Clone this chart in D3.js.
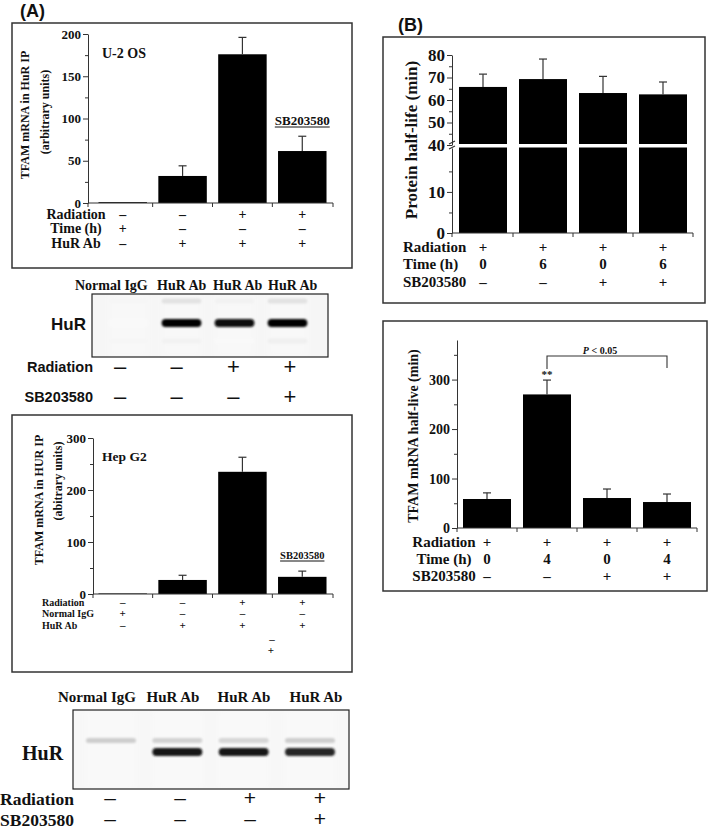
<!DOCTYPE html>
<html><head><meta charset="utf-8">
<script src="https://cdn.jsdelivr.net/npm/d3@7"></script>
<style>
body{margin:0;background:#fff;}
svg{display:block;}
</style></head><body>
<svg id="fig" width="709" height="831"></svg>
<script>
// ---------------- DATA ----------------
const lanes = ["1", "2", "3", "4"];

// (A) top chart: U-2 OS
const u2osValues = [1, 32, 176, 61.5];
const u2osErrTop = [1, 44, 196, 79];
const u2osTicks = [0, 50, 100, 150, 200];
const u2osMinor = [25, 75, 125, 175];
const u2osRows = ["Radiation", "Time (h)", "HuR Ab"];
const u2osSigns = [["–", "–", "+", "+"], ["+", "–", "–", "–"], ["–", "+", "+", "+"]];

// (A) blot 1
const blot1Headers = ["Normal IgG", "HuR Ab", "HuR Ab", "HuR Ab"];
const blot1Main = [0.05, 1, 0.97, 0.98];
const blot1Upper = [0.07, 0.2, 0.1, 0.2];
const blot1Lower = [0.07, 0.1, 0.05, 0.12];
const blot1Rows = ["Radiation", "SB203580"];
const blot1Signs = [["–", "–", "+", "+"], ["–", "–", "–", "+"]];

// (A) Hep G2 chart
const hepValues = [1, 27, 235, 33];
const hepErrTop = [1, 36, 263, 44];
const hepTicks = [0, 100, 200, 300];
const hepMinor = [50, 150, 250];
const hepRows = ["Radiation", "Normal IgG", "HuR Ab"];
const hepSigns = [["–", "–", "+", "+"], ["+", "–", "–", "–"], ["–", "+", "+", "+"]];

// (A) blot 2
const blot2Headers = ["Normal IgG", "HuR Ab", "HuR Ab", "HuR Ab"];
const blot2Upper = [0.3, 0.28, 0.26, 0.3];
const blot2Main = [0, 1, 1, 0.95];
const blot2Rows = ["Radiation", "SB203580"];
const blot2Signs = [["–", "–", "+", "+"], ["–", "–", "–", "+"]];

// (B) protein half-life (broken axis)
const protValues = [65.8, 69.3, 63.1, 62.5];
const protErrTop = [71.5, 78.2, 70.5, 68];
const protTicksUpper = [40, 50, 60, 70, 80];
const protMinorUpper = [45, 55, 65, 75];
const protTicksLower = [0, 10];
const protMinorLower = [5, 15];
const protRows = ["Radiation", "Time (h)", "SB203580"];
const protSigns = [["+", "+", "+", "+"], ["0", "6", "0", "6"], ["–", "–", "+", "+"]];

// (B) TFAM mRNA half-life
const mrnaValues = [58.6, 270, 60.6, 52.5];
const mrnaErrTop = [71, 299, 78.8, 68.7];
const mrnaTicks = [0, 100, 200, 300];
const mrnaMinor = [50, 150, 250, 350];
const mrnaRows = ["Radiation", "Time (h)", "SB203580"];
const mrnaSigns = [["+", "+", "+", "+"], ["0", "4", "0", "4"], ["–", "–", "+", "+"]];

// ---------------- HELPERS ----------------
const SERIF = '"Liberation Serif","Times New Roman",serif';
const SANS = '"Liberation Sans",Arial,sans-serif';
const svg = d3.select("#fig");
const INK = "#111";

const defs = svg.append("defs");
defs.append("filter").attr("id", "blur").attr("x", "-20%").attr("y", "-100%").attr("width", "140%").attr("height", "300%")
  .append("feGaussianBlur").attr("stdDeviation", 1.3);
defs.append("filter").attr("id", "blur2").attr("x", "-20%").attr("y", "-100%").attr("width", "140%").attr("height", "300%")
  .append("feGaussianBlur").attr("stdDeviation", 3);

function txt(x, y, s, size, o = {}) {
  const t = svg.append("text").attr("x", x).attr("y", y).text(s)
    .attr("font-size", size).attr("font-family", o.sans ? SANS : SERIF)
    .attr("font-weight", o.weight || "bold")
    .attr("text-anchor", o.anchor || "start").attr("fill", INK);
  if (o.rotate) t.attr("transform", `rotate(-90,${x},${y})`).attr("dy", "0.35em");
  return t;
}
function box(x0, y0, x1, y1) {
  svg.append("rect").attr("x", x0).attr("y", y0).attr("width", x1 - x0).attr("height", y1 - y0)
    .attr("fill", "none").attr("stroke", "#333").attr("stroke-width", 1.5);
}
function yAxis(x, scale, major, minor, size) {
  const g = svg.append("g").attr("transform", `translate(${x},0)`);
  g.call(d3.axisLeft(scale).tickValues(major).tickSize(5).tickSizeOuter(0).tickPadding(2).tickFormat(d3.format("d")));
  g.selectAll("text").attr("font-size", size).attr("font-family", SERIF).attr("font-weight", "bold").attr("fill", INK);
  g.select(".domain").attr("stroke", "#333");
  g.selectAll(".tick line").attr("stroke", "#333");
  const gm = svg.append("g").attr("transform", `translate(${x},0)`);
  gm.call(d3.axisLeft(scale).tickValues(minor).tickSize(3).tickFormat(""));
  gm.select(".domain").remove();
  gm.selectAll(".tick line").attr("stroke", "#333");
}
function xAxis(x0, x1, y, xs) {
  svg.append("line").attr("x1", x0).attr("x2", x1).attr("y1", y).attr("y2", y).attr("stroke", "#333");
  const step = xs.step();
  const bounds = [x0].concat(lanes.slice(1).map(l => xs(l) - (step - xs.bandwidth()) / 2)).concat([x1]);
  svg.selectAll(null).data(bounds).enter().append("line")
    .attr("x1", d => d).attr("x2", d => d).attr("y1", y).attr("y2", y + 4).attr("stroke", "#333");
}
function bars(xs, ys, values, errs, base) {
  svg.selectAll(null).data(values).enter().append("rect")
    .attr("x", (d, i) => xs(lanes[i])).attr("width", xs.bandwidth())
    .attr("y", d => ys(d)).attr("height", d => ys(base) - ys(d)).attr("fill", "#000");
  errorBars(xs, ys, values, errs);
}
function errorBars(xs, ys, values, errs) {
  values.forEach((v, i) => {
    if (errs[i] <= v) return;
    const cx = xs(lanes[i]) + xs.bandwidth() / 2;
    svg.append("line").attr("x1", cx).attr("x2", cx).attr("y1", ys(v)).attr("y2", ys(errs[i])).attr("stroke", "#333").attr("stroke-width", 1.2);
    svg.append("line").attr("x1", cx - 4).attr("x2", cx + 4).attr("y1", ys(errs[i])).attr("y2", ys(errs[i])).attr("stroke", "#333").attr("stroke-width", 1.2);
  });
}
function signRows(xs, rows, signs, baselines, size, o = {}) {
  signs.forEach((row, r) => {
    row.forEach((s, i) => {
      const cx = xs.bandwidth ? xs(lanes[i]) + xs.bandwidth() / 2 : xs(lanes[i]);
      txt(cx, baselines[r], s, size, Object.assign({ anchor: "middle" }, o));
    });
  });
}
function underlined(cx, y, s, size) {
  const t = txt(cx, y, s, size, { anchor: "middle" });
  const w = t.node().getComputedTextLength();
  svg.append("line").attr("x1", cx - w / 2).attr("x2", cx + w / 2).attr("y1", y + 2).attr("y2", y + 2).attr("stroke", INK).attr("stroke-width", 1);
}

// ---------------- PANEL LABELS ----------------
txt(20, 17, "(A)", 18, { sans: true });
txt(398, 31, "(B)", 18, { sans: true });

// ---------------- (A) U-2 OS ----------------
box(12, 23, 352, 268);
{
  const xs = d3.scaleBand().domain(lanes).range([92.5, 332.5]).paddingInner(0.19).paddingOuter(0.1);
  const ys = d3.scaleLinear().domain([0, 200]).range([203, 34]);
  bars(xs, ys, u2osValues, u2osErrTop, 0);
  xAxis(88, 333, 203, xs);
  yAxis(88, ys, u2osTicks, u2osMinor, 13);
  txt(25, 115, "TFAM mRNA in HuR IP", 12, { anchor: "middle", rotate: true });
  txt(45, 112, "(arbitrary units)", 12, { anchor: "middle", rotate: true });
  txt(102, 58, "U-2 OS", 14);
  underlined(xs("4") + xs.bandwidth() / 2, 125, "SB203580", 13);
  const bl = [219, 233, 248];
  u2osRows.forEach((r, k) => txt(76, bl[k], r, 14, { anchor: "middle" }));
  signRows(xs, u2osRows, u2osSigns, bl, 14);
}

// ---------------- (A) Blot 1 ----------------
{
  const x0 = 92, y0 = 294, x1 = 328, y1 = 357;
  const lx = d3.scaleBand().domain(lanes).range([102, 314]).paddingInner(0.25).paddingOuter(0.125);
  const clip = defs.append("clipPath").attr("id", "c1");
  clip.append("rect").attr("x", x0).attr("y", y0).attr("width", x1 - x0).attr("height", y1 - y0);
  const g = svg.append("g").attr("clip-path", "url(#c1)");
  g.append("rect").attr("x", x0).attr("y", y0).attr("width", x1 - x0).attr("height", y1 - y0).attr("fill", "#f6f6f6");
  lanes.forEach((l, i) => {
    g.append("rect").attr("x", lx(l)).attr("y", y0).attr("width", lx.bandwidth()).attr("height", y1 - y0)
      .attr("fill", d3.interpolateGreys(0.06)).attr("filter", "url(#blur2)");
    [[blot1Upper, 301, 5], [blot1Main, 323, 8], [blot1Lower, 341, 5]].forEach(([arr, cy, h]) => {
      if (arr[i] <= 0) return;
      g.append("rect").attr("x", lx(l)).attr("y", cy - h / 2).attr("width", lx.bandwidth()).attr("height", h)
        .attr("rx", h / 2).attr("fill", d3.interpolateGreys(arr[i])).attr("filter", "url(#blur)");
    });
  });
  svg.append("rect").attr("x", x0).attr("y", y0).attr("width", x1 - x0).attr("height", y1 - y0)
    .attr("fill", "none").attr("stroke", "#222").attr("stroke-width", 1.2);
  const hx = [75, 157, 213, 268];
  blot1Headers.forEach((h, i) => txt(hx[i], 290, h, 14));
  txt(86, 330, "HuR", 17, { sans: true, anchor: "end" });
  const sx = d3.scalePoint().domain(lanes).range([120, 290]);
  const bl = [374, 404];
  blot1Rows.forEach((r, k) => txt(93, bl[k] - 2, r, 14.5, { sans: true, anchor: "end" }));
  signRows(sx, blot1Rows, blot1Signs, bl, 22, { sans: true, weight: "normal" });
}

// ---------------- (A) Hep G2 ----------------
box(12, 415, 352, 672);
{
  const xs = d3.scaleBand().domain(lanes).range([92.5, 332.5]).paddingInner(0.19).paddingOuter(0.1);
  const ys = d3.scaleLinear().domain([0, 300]).range([594, 438]);
  bars(xs, ys, hepValues, hepErrTop, 0);
  xAxis(93, 333, 594, xs);
  yAxis(93, ys, hepTicks, hepMinor, 13);
  txt(39, 500, "TFAM mRNA in HUR IP", 12, { anchor: "middle", rotate: true });
  txt(58, 481, "(abitrary units)", 12, { anchor: "middle", rotate: true });
  txt(102, 461, "Hep G2", 13.5);
  underlined(xs("4") + xs.bandwidth() / 2, 559, "SB203580", 10.5);
  const bl = [606, 617, 629];
  hepRows.forEach((r, k) => txt(42, bl[k], r, 10));
  signRows(xs, hepRows, hepSigns, bl, 11);
  txt(272, 643, "–", 11, { anchor: "middle" });
  txt(271, 654, "+", 11, { anchor: "middle" });
}

// ---------------- (A) Blot 2 ----------------
{
  const x0 = 73, y0 = 710, x1 = 349, y1 = 789;
  const lc = d3.scalePoint().domain(lanes).range([111, 310]);
  const bw = 50;
  const clip = defs.append("clipPath").attr("id", "c2");
  clip.append("rect").attr("x", x0).attr("y", y0).attr("width", x1 - x0).attr("height", y1 - y0);
  const g = svg.append("g").attr("clip-path", "url(#c2)");
  g.append("rect").attr("x", x0).attr("y", y0).attr("width", x1 - x0).attr("height", y1 - y0).attr("fill", "#f7f7f7");
  lanes.forEach((l, i) => {
    g.append("rect").attr("x", lc(l) - bw / 2).attr("y", y0).attr("width", bw).attr("height", y1 - y0)
      .attr("fill", d3.interpolateGreys(0.05)).attr("filter", "url(#blur2)");
    if (blot2Upper[i] > 0)
      g.append("rect").attr("x", lc(l) - bw / 2).attr("y", 738).attr("width", bw).attr("height", 5).attr("rx", 2.5)
        .attr("fill", d3.interpolateGreys(blot2Upper[i])).attr("filter", "url(#blur)");
    if (blot2Main[i] > 0)
      g.append("rect").attr("x", lc(l) - bw / 2).attr("y", 748).attr("width", bw).attr("height", 8).attr("rx", 4)
        .attr("fill", d3.interpolateGreys(blot2Main[i] * 0.92)).attr("filter", "url(#blur)");
  });
  svg.append("rect").attr("x", x0).attr("y", y0).attr("width", x1 - x0).attr("height", y1 - y0)
    .attr("fill", "none").attr("stroke", "#222").attr("stroke-width", 1.2);
  const hc = [97, 173, 244, 316];
  blot2Headers.forEach((h, i) => txt(hc[i], 702, h, 15, { anchor: "middle" }));
  txt(22, 760, "HuR", 20);
  const sx = d3.scalePoint().domain(lanes).range([110, 320]);
  const bl = [805, 826];
  blot2Rows.forEach((r, k) => txt(0, bl[k], r, 17.5));
  signRows(sx, blot2Rows, blot2Signs, bl, 21, { sans: true, weight: "normal" });
}

// ---------------- (B) Protein half-life ----------------
box(383, 37, 705, 303);
{
  const xs = d3.scaleBand().domain(lanes).range([453, 693]).paddingInner(0.2).paddingOuter(0.1);
  const yUp = d3.scaleLinear().domain([40, 80]).range([145, 55]);
  const yLow = d3.scaleLinear().domain([0, 20.7]).range([233, 148]);
  svg.selectAll(null).data(protValues).enter().append("rect")
    .attr("x", (d, i) => xs(lanes[i])).attr("width", xs.bandwidth())
    .attr("y", yLow(20.7) - 0.5).attr("height", yLow(0) - yLow(20.7) + 0.5).attr("fill", "#000");
  svg.selectAll(null).data(protValues).enter().append("rect")
    .attr("x", (d, i) => xs(lanes[i])).attr("width", xs.bandwidth())
    .attr("y", d => yUp(d)).attr("height", d => yUp(40) - 1 - yUp(d)).attr("fill", "#000");
  errorBars(xs, yUp, protValues, protErrTop);
  xAxis(452, 693, 233, xs);
  yAxis(452, yLow, protTicksLower, protMinorLower, 17);
  yAxis(452, yUp, protTicksUpper, protMinorUpper, 17);
  [[144, 141], [149, 146]].forEach(([a, b]) =>
    svg.append("line").attr("x1", 449).attr("x2", 455).attr("y1", a).attr("y2", b).attr("stroke", "#333").attr("stroke-width", 1.2));
  txt(411, 140, "Protein half-life (min)", 17, { anchor: "middle", rotate: true });
  const bl = [252, 269, 287];
  protRows.forEach((r, k) => txt(403, bl[k], r, 15));
  signRows(xs, protRows, protSigns, bl, 15);
}

// ---------------- (B) TFAM mRNA half-life ----------------
box(383, 321, 707, 591);
{
  const xs = d3.scaleBand().domain(lanes).range([457, 697]).paddingInner(0.2).paddingOuter(0.1);
  const ys = d3.scaleLinear().domain([0, 380]).range([528, 340]);
  bars(xs, ys, mrnaValues, mrnaErrTop, 0);
  xAxis(457, 697, 528, xs);
  yAxis(457, ys, mrnaTicks, mrnaMinor, 14);
  txt(413, 436, "TFAM mRNA half-live (min)", 14, { anchor: "middle", rotate: true });
  const c2 = xs("2") + xs.bandwidth() / 2, c4 = xs("4") + xs.bandwidth() / 2;
  txt(c2, 378, "**", 11, { anchor: "middle" });
  svg.append("path").attr("d", `M${c2},369V356H${c4}V368`).attr("fill", "none").attr("stroke", "#333").attr("stroke-width", 1.1);
  const p = txt(600, 354, "", 10, { anchor: "middle" });
  p.append("tspan").attr("font-style", "italic").text("P");
  p.append("tspan").text(" < 0.05");
  const bl = [547, 564, 581];
  mrnaRows.forEach((r, k) => txt(444, bl[k], r, 15, { anchor: "middle" }));
  signRows(xs, mrnaRows, mrnaSigns, bl, 15);
}
</script>
</body></html>
